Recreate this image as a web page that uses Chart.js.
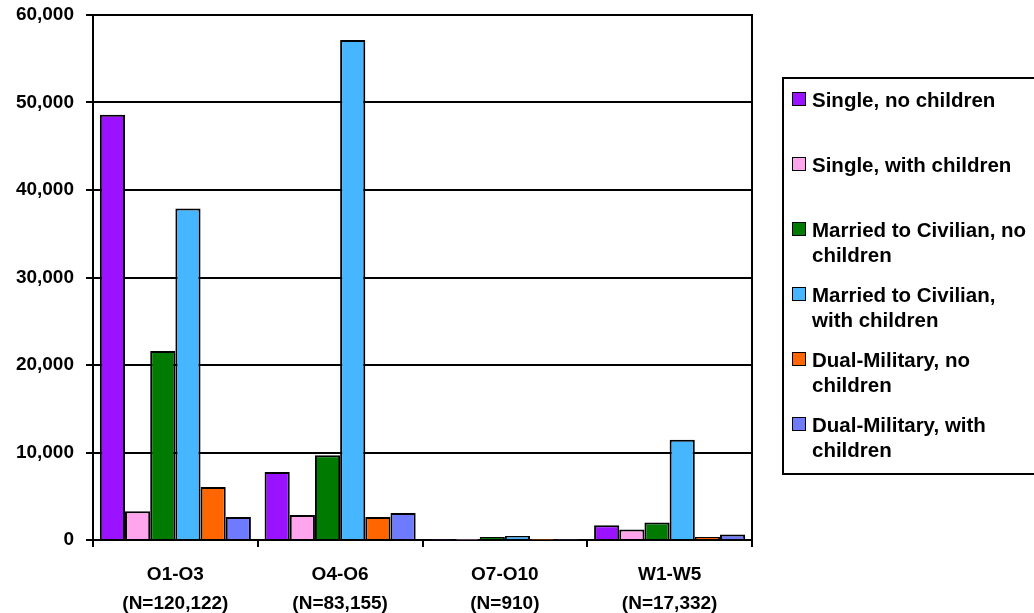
<!DOCTYPE html>
<html>
<head>
<meta charset="utf-8">
<script src="https://cdn.jsdelivr.net/npm/chart.js@4"></script>
<style>
    body { margin: 0; background: #fff; }
    #wrap { position: relative; width: 1034px; height: 613px; overflow: hidden; }
    #chart { position: absolute; left: 0; top: 0; }
    #legend {
        position: absolute; left: 782px; top: 77px; width: 280px; height: 394px;
        border: 2px solid #000; box-sizing: content-box;
        font-family: 'Liberation Sans', Arial, sans-serif; font-weight: bold; font-size: 20.5px;
    }
    .item { position: absolute; left: 0; height: 50px; line-height: 25px; }
    .box { position: absolute; left: 8px; top: 5px; width: 12px; height: 12px; border: 1.5px solid #000; }
    .txt { position: absolute; left: 28px; top: 0; white-space: nowrap; }
</style>
</head>
<body>
<div id="wrap">
    <canvas id="chart" width="1034" height="613"></canvas>
    <div id="legend"></div>
</div>
<script>
// Grade groups and their sizes
const categories = ['O1-O3', 'O4-O6', 'O7-O10', 'W1-W5'];
const groupSizes = ['(N=120,122)', '(N=83,155)', '(N=910)', '(N=17,332)'];

// Family status series
const seriesNames = [
    'Single, no children',
    'Single, with children',
    'Married to Civilian, no children',
    'Married to Civilian, with children',
    'Dual-Military, no children',
    'Dual-Military, with children'
];
const legendLines = [
    ['Single, no children'],
    ['Single, with children'],
    ['Married to Civilian, no', 'children'],
    ['Married to Civilian,', 'with children'],
    ['Dual-Military, no', 'children'],
    ['Dual-Military, with', 'children']
];
const seriesColors = ['#9A12FF', '#FFA5EE', '#007A00', '#45B6FF', '#FF6600', '#6E7BFF'];

const singleNoKids      = [48600, 7770, 60, 1700];
const singleWithKids    = [3300, 2860, 20, 1200];
const marriedNoKids     = [21600, 9680, 330, 2000];
const marriedWithKids   = [37900, 57140, 450, 11450];
const dualNoKids        = [6060, 2630, 20, 350];
const dualWithKids      = [2630, 3090, 30, 630];

const yTicks = [0, 10000, 20000, 30000, 40000, 50000, 60000];

const seriesValues = [singleNoKids, singleWithKids, marriedNoKids, marriedWithKids, dualNoKids, dualWithKids];

// Legend (html so the wrapped lines match)
const legend = document.getElementById('legend');
legendLines.forEach((lines, i) => {
    const item = document.createElement('div');
    item.className = 'item';
    item.style.top = (8 + i * 65) + 'px';
    item.innerHTML = '<div class="box" style="background:' + seriesColors[i] + '"></div>' +
        '<div class="txt">' + lines.join('<br>') + '</div>';
    legend.appendChild(item);
});

// Frame on top and right of plot area
const frame = {
    id: 'frame',
    afterDraw(chart) {
        const a = chart.chartArea, ctx = chart.ctx;
        ctx.save();
        ctx.strokeStyle = '#000';
        ctx.lineWidth = 2;
        ctx.beginPath();
        ctx.moveTo(a.left, a.top);
        ctx.lineTo(a.right, a.top);
        ctx.lineTo(a.right, a.bottom);
        ctx.stroke();
        ctx.restore();
    }
};

const font = { family: "'Liberation Sans', Arial, sans-serif", weight: 'bold' };

new Chart(document.getElementById('chart'), {
    type: 'bar',
    data: {
        labels: categories.map((c, i) => [c, groupSizes[i]]),
        datasets: seriesNames.map((name, i) => ({
            label: name,
            data: seriesValues[i],
            backgroundColor: seriesColors[i],
            borderColor: '#000',
            borderWidth: 2,
            categoryPercentage: 0.917,
            barPercentage: 1.0
        }))
    },
    options: {
        responsive: false,
        animation: false,
        layout: { padding: { top: 15, right: 282, bottom: 0, left: 0 } },
        plugins: { legend: { display: false }, tooltip: { enabled: false } },
        scales: {
            x: {
                grid: { drawOnChartArea: false, color: '#000', lineWidth: 2, tickLength: 7 },
                border: { color: '#000', width: 2 },
                ticks: { color: '#000', font: { ...font, size: 19, lineHeight: 1.53 }, padding: 13, maxRotation: 0 },
                afterFit(scale) { scale.height = 73; }
            },
            y: {
                min: 0,
                max: 60000,
                afterBuildTicks(scale) { scale.ticks = yTicks.map(v => ({ value: v })); },
                grid: { color: '#000', lineWidth: 2, tickLength: 7 },
                border: { color: '#000', width: 2 },
                ticks: {
                    color: '#000', font: { ...font, size: 19 }, padding: 12,
                    callback: v => v.toLocaleString('en-US')
                },
                afterFit(scale) {
                    scale.width = 93;
                    scale.paddingTop = 0;
                    scale.paddingBottom = 0;
                }
            }
        }
    },
    plugins: [frame]
});
</script>
</body>
</html>
